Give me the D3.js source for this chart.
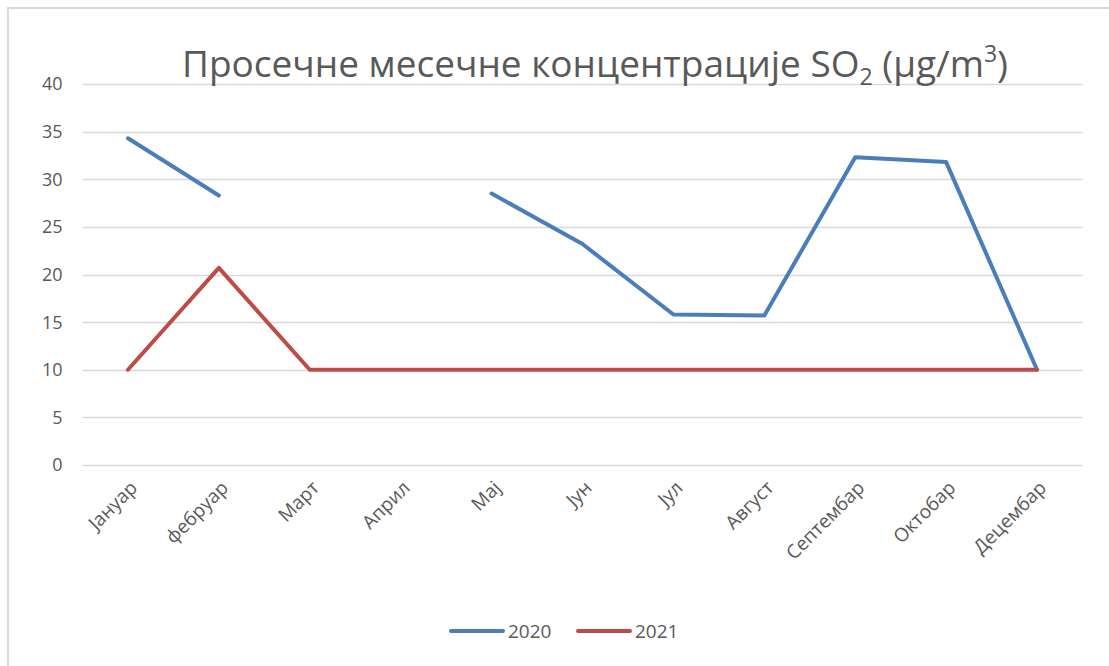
<!DOCTYPE html>
<html>
<head>
<meta charset="utf-8">
<script src="https://cdn.jsdelivr.net/npm/d3@7"></script>
<style>
  html, body { margin: 0; padding: 0; background: #fff; }
  svg { display: block; }
  text { font-family: "Open Sans", "Noto Sans", sans-serif; fill: #595959; }
</style>
</head>
<body>
<svg id="chart" width="1109" height="666"></svg>
<script>
// Monthly average SO2 concentrations (µg/m³)
const months = ["Јануар", "фебруар", "Март", "Април", "Мај", "Јун", "Јул", "Август", "Септембар", "Октобар", "Децембар"];
const values2020 = [34.3, 28.3, null, null, 28.5, 23.2, 15.8, 15.7, 32.3, 31.8, 10.0];
const values2021 = [10.0, 20.7, 10.0, 10.0, 10.0, 10.0, 10.0, 10.0, 10.0, 10.0, 10.0];
const yTicks = [0, 5, 10, 15, 20, 25, 30, 35, 40];
const seriesNames = ["2020", "2021"];
const seriesColors = ["#4a7ebb", "#be4b48"];

const svg = d3.select("#chart");

// outer frame
svg.append("rect")
  .attr("x", 8).attr("y", 8)
  .attr("width", 1120).attr("height", 680)
  .attr("fill", "none")
  .attr("stroke", "#d9d9d9")
  .attr("stroke-width", 2);

const plot = { left: 82.5, right: 1082.5, top: 84, bottom: 465 };

const x = d3.scalePoint()
  .domain(months)
  .range([plot.left, plot.right])
  .padding(0.5);

const y = d3.scaleLinear()
  .domain([0, 40])
  .range([plot.bottom, plot.top]);

// horizontal gridlines
svg.append("g")
  .selectAll("line")
  .data(yTicks)
  .join("line")
  .attr("x1", plot.left).attr("x2", plot.right)
  .attr("y1", d => Math.round(y(d)) + 0.5)
  .attr("y2", d => Math.round(y(d)) + 0.5)
  .attr("stroke", "#d9d9d9")
  .attr("stroke-width", 1.3);

// y axis labels
const yAxis = d3.axisLeft(y).tickValues(yTicks).tickSize(0).tickPadding(0);
const yg = svg.append("g")
  .attr("transform", `translate(${plot.left - 20},0)`)
  .call(yAxis);
yg.select(".domain").remove();
yg.selectAll("text")
  .style("font-family", "'Open Sans', sans-serif")
  .attr("fill", "#595959")
  .attr("font-size", 18)
  .attr("dy", "0.33em");

// x axis labels, rotated
const xAxis = d3.axisBottom(x).tickSize(0).tickPadding(0);
const xg = svg.append("g")
  .attr("transform", `translate(0,${plot.bottom})`)
  .call(xAxis);
xg.select(".domain").remove();
xg.selectAll("text")
  .style("font-family", "'Open Sans', sans-serif")
  .attr("fill", "#595959")
  .attr("font-size", 19)
  .attr("text-anchor", "end")
  .attr("dy", 0)
  .attr("y", 0)
  .attr("transform", "translate(10,24) rotate(-45)");

// series lines
const line = d3.line()
  .defined(d => d.v !== null)
  .x(d => x(d.m))
  .y(d => y(d.v));

const series = [values2020, values2021].map((vals, i) => ({
  name: seriesNames[i],
  color: seriesColors[i],
  points: months.map((m, j) => ({ m, v: vals[j] }))
}));

svg.append("g")
  .selectAll("path")
  .data(series)
  .join("path")
  .attr("d", d => line(d.points))
  .attr("fill", "none")
  .attr("stroke", d => d.color)
  .attr("stroke-width", 4)
  .attr("stroke-linejoin", "round")
  .attr("stroke-linecap", "round");

// title
const title = svg.append("text")
  .attr("x", 595)
  .attr("y", 77)
  .attr("text-anchor", "middle")
  .attr("font-size", 37);
title.append("tspan").text("Просечне месечне концентрације SO");
title.append("tspan").attr("font-size", 23).attr("dy", 8).text("2");
title.append("tspan").attr("dy", -8).text(" (µg/m");
title.append("tspan").attr("font-size", 23).attr("dy", -15).text("3");
title.append("tspan").attr("dy", 15).text(")");

// legend
const legendItems = [{ x: 451 }, { x: 578 }];
const lg = svg.append("g")
  .selectAll("g")
  .data(series)
  .join("g")
  .attr("transform", (d, i) => `translate(${legendItems[i].x},631)`);
lg.append("line")
  .attr("x1", 0).attr("x2", 52)
  .attr("stroke", d => d.color)
  .attr("stroke-width", 4)
  .attr("stroke-linecap", "round");
lg.append("text")
  .attr("x", 57)
  .attr("dy", "0.35em")
  .attr("font-size", 19)
  .text(d => d.name);
</script>
</body>
</html>
